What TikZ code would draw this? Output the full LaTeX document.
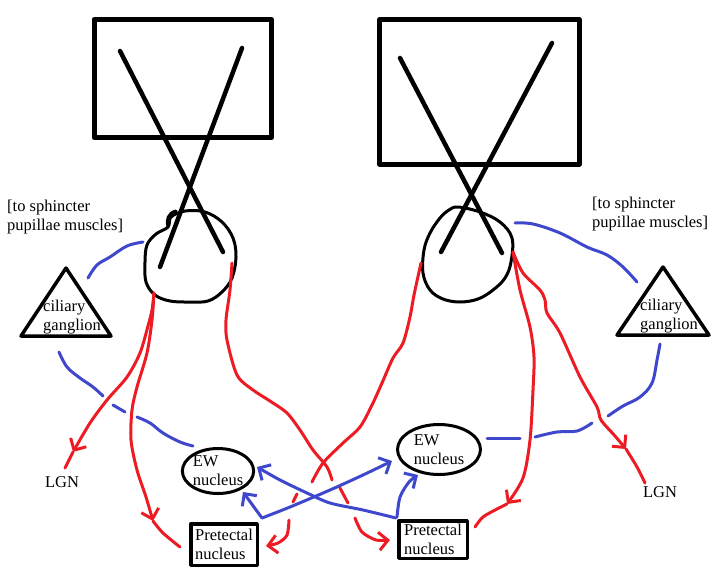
\documentclass[tikz,border=0pt]{standalone}
\usepackage{fontspec}
\setmainfont{Liberation Serif}
\usetikzlibrary{arrows.meta,shapes.geometric}
\definecolor{pred}{HTML}{ED1C24}
\definecolor{pblue}{HTML}{3F48CC}
\begin{document}
\begin{tikzpicture}[x=1pt,y=-1pt,line cap=round,line join=round,
  redl/.style={draw=pred,line width=3pt},
  bluel/.style={draw=pblue,line width=3pt},
  barb/.style={-{Straight Barb[length=9pt,width=18pt]}},
  eyeline/.style={draw=black,line width=3pt},
  xline/.style={draw=black,line width=4.5pt},
  frame/.style={draw=black,line width=5pt},
  tri/.style={draw=black,line width=3.5pt},
  lbl/.style={font=\fontsize{16.5}{19}\selectfont,align=left,inner sep=0pt,text=black},
  ewnode/.style={ellipse,draw=black,line width=3pt,inner sep=0pt,align=left,font=\fontsize{16.5}{19}\selectfont},
  ptnode/.style={rectangle,draw=black,line width=3.5pt,inner sep=0pt,align=left,font=\fontsize{16.5}{19}\selectfont}
]
\useasboundingbox (0,0) rectangle (719,571);

% visual fields
\draw[frame] (94,19.5) rectangle (271.5,137.5);
\draw[frame] (379.5,19.5) rectangle (579,164);
\draw[xline] (120,51) -- (223,252);
\draw[xline] (242,48) -- (160,267);
\draw[xline] (400,58) -- (502,253);
\draw[xline] (552,43) -- (441,252);

% eyes
\draw[eyeline] plot[smooth cycle, tension=0.6] coordinates {(185,211) (205,212) (222,222) (233,238) (236,257) (232,278) (222,292) (208,301) (190,302) (170,301) (155,295) (146,282) (145,262) (147,245) (156,234) (168,227) (171,217)};
\draw[eyeline] (168,227) .. controls (166,220) and (168,213) .. (176,211);
\draw[eyeline] plot[smooth cycle, tension=0.6] coordinates {(458,207) (480,212) (500,222) (512,238) (511,262) (505,278) (493,290) (478,299) (460,302) (443,299) (430,290) (423,273) (424,250) (430,233) (440,218) (449,210)};

% labels
\node[lbl,anchor=west] (lsph) at (7,217.5) {[to sphincter\\pupillae muscles]};
\node[lbl,anchor=west] (rsph) at (592,214) {[to sphincter\\pupillae muscles]};
\node[lbl,anchor=west] (lcil) at (43,317) {ciliary\\ganglion};
\node[lbl,anchor=west] (rcil) at (640,316) {ciliary\\ganglion};
\node[lbl] (lgnl) at (62,482) {LGN};
\node[lbl] (lgnr) at (660,492) {LGN};

% ciliary ganglia
\draw[tri] (66,268) -- (21,336) -- (111,336) -- cycle;
\draw[tri] (663,267) -- (617,335) -- (709,335) -- cycle;

% nuclei
\node[ewnode,minimum width=69pt,minimum height=45pt] (lew) at (218,471) {EW\\nucleus};
\node[ewnode,minimum width=83pt,minimum height=50pt] (rew) at (439,449.5) {EW\\nucleus};
\node[ptnode,minimum width=66.5pt,minimum height=41.5pt] (lpt) at (224,544.5) {Pretectal\\nucleus};
\node[ptnode,minimum width=68.5pt,minimum height=37.5pt] (rpt) at (433,539.5) {Pretectal\\nucleus};

% named end points
\coordinate (leA) at (154,293);
\coordinate (leC) at (232,263);
\coordinate (reD) at (421,263);
\coordinate (reE) at (513,252);
\coordinate (tipA) at (73,452);
\coordinate (endA) at (65,468);
\coordinate (tipB) at (153,521);
\coordinate (endB) at (180,547);
\coordinate (tipC) at (390,540);
\coordinate (tipD) at (266,546);
\coordinate (tipE) at (507,504);
\coordinate (endE) at (475,527);
\coordinate (tipF) at (626,449);
\coordinate (endF) at (645,483);

% red optic pathways
\draw[redl,barb] plot[smooth, tension=0.5] coordinates {(leA) (152,310) (148,326) (140,353) (127,377) (107,400) (90,423) (tipA)};
\draw[redl] (tipA) -- (endA);
\draw[redl,barb] plot[smooth, tension=0.5] coordinates {(leA) (152,320) (147,353) (137,387) (132,410) (131,440) (137,470) (146,497) (tipB)};
\draw[redl] plot[smooth, tension=0.5] coordinates {(tipB) (163,533) (endB)};
\draw[redl] plot[smooth, tension=0.5] coordinates {(leC) (230,290) (226,320) (227,340) (237,375) (253,390) (270,401) (287,413) (300,430) (313,450) (327,467) (332,480)};
\draw[redl] (340,488) -- (348,503);
\draw[redl,barb] plot[smooth, tension=0.5] coordinates {(355,518) (362,532) (376,540) (tipC)};
\draw[redl] plot[smooth, tension=0.5] coordinates {(reD) (414,295) (410,317) (403,343) (393,358) (382,383) (372,405) (360,427) (343,443) (323,463) (312,482)};
\draw[redl] (297,494) -- (293,502);
\draw[redl,barb] plot[smooth, tension=0.5] coordinates {(289,520) (287,535) (278,543) (tipD)};
\draw[redl,barb] plot[smooth, tension=0.5] coordinates {(reE) (520,290) (530,327) (534,357) (533,390) (530,440) (523,478) (tipE)};
\draw[redl] plot[smooth, tension=0.5] coordinates {(tipE) (497,509) (483,517) (endE)};
\draw[redl,barb] plot[smooth, tension=0.5] coordinates {(reE) (523,273) (540,290) (545,300) (547,313) (560,333) (580,377) (597,407) (601,420) (615,436) (tipF)};
\draw[redl] plot[smooth, tension=0.5] coordinates {(tipF) (637,467) (endF)};

% blue efferent pathways
\draw[bluel] plot[smooth, tension=0.6] coordinates {(88,278) (97,265) (110,257) (127,246) (143,242)};
\draw[bluel] plot[smooth, tension=0.6] coordinates {(515,223) (533,224) (560,233) (587,247) (607,255) (623,267) (637,282)};
\draw[bluel] plot[smooth, tension=0.6] coordinates {(59,352) (67,367) (80,378) (93,387) (103,396)};
\draw[bluel] (113,405) -- (125,412);
\draw[bluel] plot[smooth, tension=0.6] coordinates {(137,417) (150,423) (163,433) (180,442) (193,446)};
\draw[bluel] plot[smooth, tension=0.6] coordinates {(660,344) (657,360) (652,383) (640,397) (623,406) (608,416)};
\draw[bluel] plot[smooth, tension=0.6] coordinates {(592,423) (577,431) (557,432) (535,437)};
\draw[bluel] (520,438) -- (487,438);

% blue pretectal -> EW
\draw[bluel,barb] (262,518) -- (243,492);
\draw[bluel,barb] plot[smooth, tension=0.5] coordinates {(262,518) (290,507) (330,490) (363,475) (392,461)};
\draw[bluel,barb] plot[smooth, tension=0.5] coordinates {(397,517) (400,497) (409,482) (418,475)};
\draw[bluel,barb] plot[smooth, tension=0.5] coordinates {(396,518) (363,510) (330,503) (307,493) (280,480) (257,467)};
\end{tikzpicture}
\end{document}
